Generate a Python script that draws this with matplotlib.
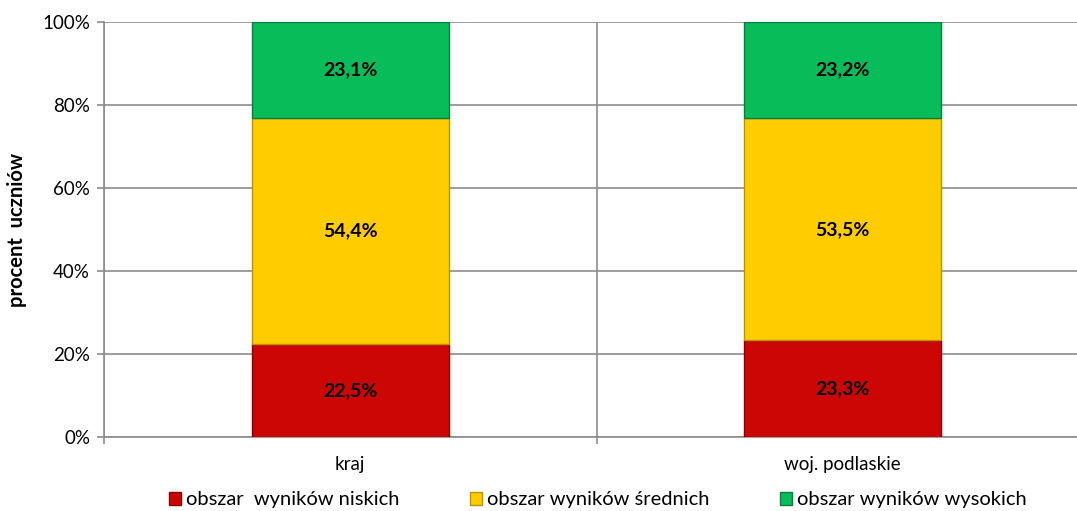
import matplotlib
matplotlib.use("Agg")
import matplotlib.pyplot as plt
from matplotlib.patches import Patch
import numpy as np

categories = ["kraj", "woj. podlaskie"]
niskie = [22.5, 23.3]
srednie = [54.4, 53.5]
wysokie = [23.1, 23.2]
series_names = ["obszar  wyników niskich", "obszar wyników średnich", "obszar wyników wysokich"]
colors = ["#CC0505", "#FFCC00", "#08BC5A"]
edge_colors = ["#8A0000", "#B89400", "#04803C"]
yticks = [0, 20, 40, 60, 80, 100]

plt.rcParams['font.family'] = ['Lato', 'DejaVu Sans']

fig = plt.figure(figsize=(10.77, 5.11), dpi=100)
ax = fig.add_axes([104/1077, 1 - 437/511, (1089 - 104)/1077, (437 - 22)/511])

x = np.arange(len(categories))
width = 0.4
bottom = np.zeros(len(categories))
for vals, c, ec in zip([niskie, srednie, wysokie], colors, edge_colors):
    vals = np.array(vals)
    ax.bar(x, vals, width, bottom=bottom, color=c, edgecolor=ec, linewidth=1.0, zorder=3)
    for xi, b, v in zip(x, bottom, vals):
        ax.text(xi, b + v / 2, f"{v:.1f}%".replace(".", ","), ha="center", va="center",
                fontsize=14, fontweight="bold", color="black", zorder=4)
    bottom += vals

ax.set_xlim(-0.5, 1.5)
ax.set_ylim(0, 100)
ax.set_yticks(yticks)
ax.set_yticklabels([f"{t}%" for t in yticks], fontsize=13.5)
ax.yaxis.grid(True, color="#8C8C8C", linewidth=1.2, zorder=0)
ax.set_xticks(x)
ax.set_xticklabels(categories, fontsize=13.5)
ax.set_xticks([-0.5, 0.5, 1.5], minor=True)
ax.xaxis.grid(True, which="minor", color="#8C8C8C", linewidth=1.2, zorder=0)
ax.tick_params(axis="x", which="major", length=0, pad=14)
ax.tick_params(axis="x", which="minor", length=5, color="#8C8C8C", width=1.2)
ax.tick_params(axis="y", length=5, color="#8C8C8C", width=1.2, pad=5)
for s in ["top", "right"]:
    ax.spines[s].set_visible(False)
for s in ["left", "bottom"]:
    ax.spines[s].set_color("#8C8C8C")
    ax.spines[s].set_linewidth(1.2)
ax.set_ylabel("procent  uczniów", fontsize=14.5, fontweight="bold", labelpad=11)

handles = [Patch(facecolor=c, edgecolor=ec) for c, ec in zip(colors, edge_colors)]
fig.legend(handles, series_names, loc="center", bbox_to_anchor=(0.555, 1 - 500/511),
           ncol=3, frameon=False, fontsize=14.5, handlelength=0.6, handleheight=0.6,
           handletextpad=0.25, columnspacing=3.5)

fig.savefig("out.png", dpi=100)
